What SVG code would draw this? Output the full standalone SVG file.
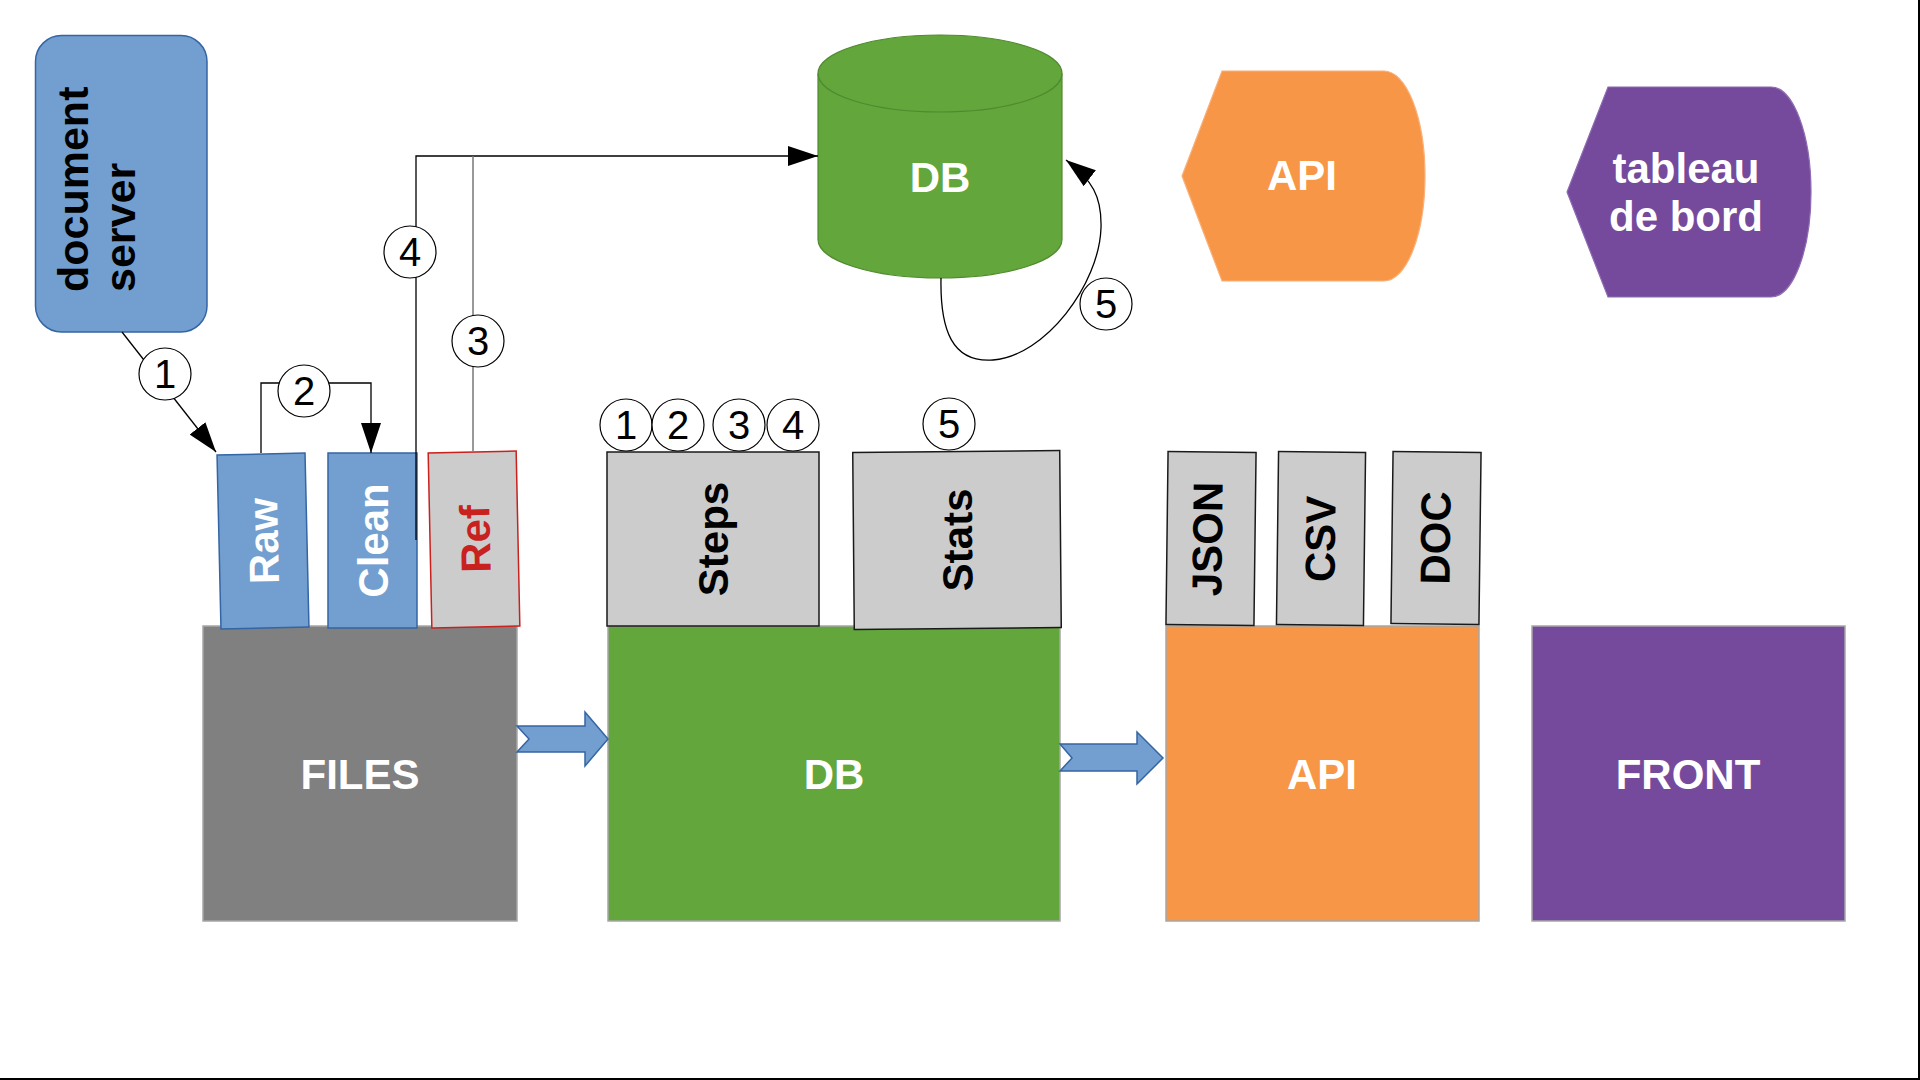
<svg xmlns="http://www.w3.org/2000/svg" width="1920" height="1080" viewBox="0 0 1920 1080">
<defs>
<marker id="ah" markerUnits="userSpaceOnUse" markerWidth="30" markerHeight="20" refX="30" refY="10" orient="auto"><path d="M0,0 L30,10 L0,20 Z" fill="#000"/></marker>
<style>
text{font-family:"Liberation Sans",Arial,sans-serif;}
.lbl{font-weight:bold;font-size:42px;fill:#fff;text-anchor:middle;}
.vlbl{font-weight:bold;font-size:42px;fill:#000;text-anchor:middle;}
.num{font-size:40px;fill:#000;text-anchor:middle;}
.circ{fill:#fff;stroke:#000;stroke-width:1.2;}
.blue{fill:#729fcf;stroke:#3465a4;stroke-width:1.5;}
.grey{fill:#cccccc;stroke:#1a1a1a;stroke-width:1.5;}
.con{fill:none;stroke:#000;stroke-width:1.3;}
.big{stroke:#a6a6a6;stroke-width:1.5;}
</style>
</defs>
<rect x="0" y="0" width="1920" height="1080" fill="#fff"/>

<g id="docserver">
<rect x="35.5" y="35.5" width="171.5" height="296.5" rx="26" ry="26" fill="#729fcf" stroke="#3465a4" stroke-width="1.5"/>
<text transform="translate(88,292) rotate(-90)" style="font-weight:bold;font-size:43px;fill:#000">document</text>
<text transform="translate(135,292) rotate(-90)" style="font-weight:bold;font-size:43px;fill:#000">server</text>
</g>

<g id="files">
<rect x="203" y="626" width="314" height="295" fill="#808080" class="big"/>
<text class="lbl" x="360" y="789">FILES</text>
</g>
<g id="db">
<rect x="608" y="626" width="452" height="295" fill="#62a63c" class="big"/>
<text class="lbl" x="834" y="789">DB</text>
</g>
<g id="api">
<rect x="1166" y="626" width="313" height="295" fill="#f79646" class="big"/>
<text class="lbl" x="1322" y="789">API</text>
</g>
<g id="front">
<rect x="1532" y="626" width="313" height="295" fill="#754a9c" class="big"/>
<text class="lbl" x="1688" y="789">FRONT</text>
</g>

<g id="raw" transform="translate(263,541) rotate(-1.3)">
<rect class="blue" x="-44" y="-87" width="88" height="174"/>
<text class="lbl" transform="rotate(-90)" x="0" y="15">Raw</text>
</g>
<g id="clean" transform="translate(372.5,540.5)">
<rect class="blue" x="-44.5" y="-87.5" width="89" height="175"/>
<text class="lbl" transform="rotate(-90)" x="0" y="15.5">Clean</text>
</g>
<g id="ref" transform="translate(474,539) rotate(-1.2)">
<rect x="-44" y="-87" width="88" height="175" fill="#cccccc" stroke="#c9211e" stroke-width="1.5"/>
<text class="lbl" transform="rotate(-90)" x="0" y="16" style="fill:#c9211e">Ref</text>
</g>

<g id="steps" transform="translate(713,539)">
<rect class="grey" x="-106" y="-87" width="212" height="174"/>
<text class="vlbl" transform="rotate(-90)" x="0" y="15">Steps</text>
</g>
<g id="stats" transform="translate(957,540) rotate(-0.5)">
<rect class="grey" x="-103.5" y="-88.5" width="207" height="177"/>
<text class="vlbl" transform="rotate(-90)" x="0" y="15">Stats</text>
</g>
<g id="json" transform="translate(1211,539) rotate(0.7)">
<rect class="grey" x="-44" y="-87" width="88" height="173"/>
<text class="vlbl" transform="rotate(-90)" x="0" y="11">JSON</text>
</g>
<g id="csv" transform="translate(1321,539) rotate(0.7)">
<rect class="grey" x="-43.5" y="-87" width="87" height="173"/>
<text class="vlbl" transform="rotate(-90)" x="0" y="14">CSV</text>
</g>
<g id="doc" transform="translate(1436,538) rotate(0.7)">
<rect class="grey" x="-44" y="-86" width="88" height="172"/>
<text class="vlbl" transform="rotate(-90)" x="0" y="14">DOC</text>
</g>

<g id="dbcyl">
<path d="M818,73.5 L818,239.5 A122,38.5 0 0 0 1062,239.5 L1062,73.5 A122,38.5 0 0 0 818,73.5 Z" fill="#62a63c" stroke="#4f8a2e" stroke-width="1.2"/>
<path d="M818,73.5 A122,38.5 0 0 0 1062,73.5" fill="none" stroke="#4f8a2e" stroke-width="1.2"/>
<text class="lbl" x="940" y="192">DB</text>
</g>

<g id="apidisplay">
<path d="M1222,71 L1384,71 A41,105 0 0 1 1384,281 L1222,281 L1182,176 Z" fill="#f79646" stroke="#f9b07a" stroke-width="1.2"/>
<text class="lbl" x="1302" y="190">API</text>
</g>
<g id="tableau">
<path d="M1608,87 L1771,87 A40,105 0 0 1 1771,297 L1608,297 L1567,192 Z" fill="#754a9c" stroke="#8e6bb0" stroke-width="1.2"/>
<text class="lbl" x="1686" y="183">tableau</text>
<text class="lbl" x="1686" y="231">de bord</text>
</g>

<g id="arrows">
<path class="blue" d="M517,726 L585,726 L585,712 L608,739 L585,766 L585,752 L517,752 L529,739 Z"/>
<path class="blue" d="M1060,744 L1137,744 L1137,732 L1163,758 L1137,784 L1137,771 L1060,771 L1072,758 Z"/>
</g>

<g id="connectors">
<path class="con" d="M122,332 L216,452" marker-end="url(#ah)"/>
<path class="con" d="M261,453 L261,383 L371,383 L371,453" marker-end="url(#ah)"/>
<path class="con" d="M416,540 L416,156 L818,156" marker-end="url(#ah)"/>
<path d="M473,451 L473,156" fill="none" stroke="#777" stroke-width="1.5"/>
<path class="con" d="M941,278 C940,330 952,363 993,360 C1045,356 1099,285 1101,228 C1102,196 1092,180 1066,160" marker-end="url(#ah)"/>
</g>

<g id="labels">
<circle class="circ" cx="165" cy="374" r="26"/><text class="num" x="165" y="388">1</text>
<circle class="circ" cx="304" cy="391" r="26"/><text class="num" x="304" y="405">2</text>
<circle class="circ" cx="478" cy="341" r="26"/><text class="num" x="478" y="355">3</text>
<circle class="circ" cx="410" cy="252" r="26"/><text class="num" x="410" y="266">4</text>
<circle class="circ" cx="1106" cy="304" r="26"/><text class="num" x="1106" y="318">5</text>
<circle class="circ" cx="626" cy="425" r="26"/><text class="num" x="626" y="439">1</text>
<circle class="circ" cx="678" cy="425" r="26"/><text class="num" x="678" y="439">2</text>
<circle class="circ" cx="739" cy="425" r="26"/><text class="num" x="739" y="439">3</text>
<circle class="circ" cx="793" cy="425" r="26"/><text class="num" x="793" y="439">4</text>
<circle class="circ" cx="949" cy="424" r="26"/><text class="num" x="949" y="438">5</text>
</g>

<line x1="0" y1="1079" x2="1920" y2="1079" stroke="#000" stroke-width="2"/>
<line x1="1919" y1="0" x2="1919" y2="1080" stroke="#000" stroke-width="2"/>
</svg>
